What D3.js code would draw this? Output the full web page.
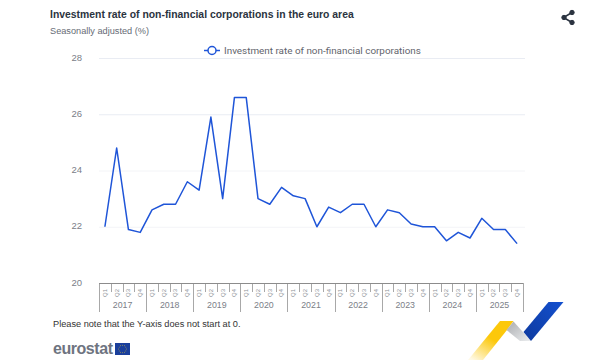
<!DOCTYPE html>
<html>
<head>
<meta charset="utf-8">
<script src="https://cdn.jsdelivr.net/npm/d3@7"></script>
<style>
  html, body { margin: 0; padding: 0; background: #fff; }
  text { font-family: "Liberation Sans", Arial, sans-serif; }
</style>
</head>
<body>
<div id="chart"></div>
<script>
// Data
const years = ["2017", "2018", "2019", "2020", "2021", "2022", "2023", "2024", "2025"];
const quarters = ["Q1", "Q2", "Q3", "Q4"];
const investmentRate = [
  22.0, 24.8, 21.9, 21.8,
  22.6, 22.8, 22.8, 23.6,
  23.3, 25.9, 23.0, 26.6,
  26.6, 23.0, 22.8, 23.4,
  23.1, 23.0, 22.0, 22.7,
  22.5, 22.8, 22.8, 22.0,
  22.6, 22.5, 22.1, 22.0,
  22.0, 21.5, 21.8, 21.6,
  22.3, 21.9, 21.9, 21.4
];
const yTicks = [20, 22, 24, 26, 28];
const seriesName = "Investment rate of non-financial corporations";

const width = 600, height = 360;
const margin = { top: 58, right: 77, bottom: 77, left: 99 };
const lineColor = "#1f55d8";

const svg = d3.select("#chart").append("svg")
  .attr("width", width)
  .attr("height", height)
  .style("display", "block");

// Scales
const periods = years.flatMap(y => quarters.map(q => y + " " + q));
const x = d3.scaleBand().domain(periods).range([margin.left, width - margin.right]);
const xYear = d3.scaleBand().domain(years).range([margin.left, width - margin.right]);
const y = d3.scaleLinear().domain([20, 28]).range([height - margin.bottom, margin.top]);

// Title block
svg.append("text").attr("x", 50).attr("y", 18)
  .attr("font-size", 10.4).attr("font-weight", "bold").attr("fill", "#2b3340")
  .text("Investment rate of non-financial corporations in the euro area");
svg.append("text").attr("x", 50).attr("y", 34)
  .attr("font-size", 9.2).attr("fill", "#666b75")
  .text("Seasonally adjusted (%)");

// Y axis with gridlines
const yAxis = svg.append("g")
  .attr("transform", "translate(" + margin.left + ",0)")
  .call(d3.axisLeft(y).tickValues(yTicks).tickSize(0).tickPadding(17));
yAxis.select(".domain").remove();
yAxis.selectAll("text").attr("font-size", 9.5).attr("font-family", null).attr("fill", "#7b8088").attr("y", -1);
svg.append("g").selectAll("line")
  .data(yTicks.filter(d => d > 20))
  .join("line")
  .attr("x1", margin.left)
  .attr("x2", width - margin.right + 2)
  .attr("y1", d => y(d) + 0.5)
  .attr("y2", d => y(d) + 0.5)
  .attr("stroke", d => d === 24 || d === 22 ? "#f3f4f7" : "#e9ecf3");

// X axis: quarters
const axisY = height - margin.bottom;
const xAxis = svg.append("g")
  .attr("transform", "translate(0," + axisY + ")")
  .call(d3.axisBottom(x).tickSize(0).tickFormat(d => d.split(" ")[1]));
xAxis.select(".domain").remove();
xAxis.selectAll("text")
  .attr("font-size", 6)
  .attr("font-family", null)
  .attr("fill", "#8a8f96")
  .attr("transform", "translate(0,10) rotate(-90)")
  .attr("x", 0).attr("y", 0).attr("dy", "0.32em")
  .attr("text-anchor", "middle");

// Quarter separators
svg.append("g").selectAll("line")
  .data(periods.filter((d, i) => i % 4 !== 0))
  .join("line")
  .attr("x1", d => Math.round(x(d)) + 0.5)
  .attr("x2", d => Math.round(x(d)) + 0.5)
  .attr("y1", axisY)
  .attr("y2", axisY + 9)
  .attr("stroke", "#a8a8a8");

// Year separators and labels
const yearEdges = years.map(d => xYear(d)).concat([width - margin.right]);
svg.append("g").selectAll("line")
  .data(yearEdges)
  .join("line")
  .attr("x1", d => Math.round(d) + 0.5)
  .attr("x2", d => Math.round(d) + 0.5)
  .attr("y1", axisY)
  .attr("y2", axisY + 29)
  .attr("stroke", "#a8a8a8");
svg.append("line")
  .attr("x1", margin.left).attr("x2", width - margin.right)
  .attr("y1", axisY + 0.5).attr("y2", axisY + 0.5)
  .attr("stroke", "#8c8c8c");
svg.append("g").selectAll("text")
  .data(years)
  .join("text")
  .attr("x", d => xYear(d) + xYear.bandwidth() / 2)
  .attr("y", axisY + 24.5)
  .attr("text-anchor", "middle")
  .attr("font-size", 8.8)
  .attr("fill", "#7b8088")
  .text(d => d);

// Series line
const line = d3.line()
  .x((d, i) => x(periods[i]) + x.bandwidth() / 2)
  .y(d => y(d));
svg.append("path")
  .datum(investmentRate)
  .attr("d", line)
  .attr("fill", "none")
  .attr("stroke", lineColor)
  .attr("stroke-width", 1.5)
  .attr("stroke-linejoin", "round");

// Legend
const legend = svg.append("g").attr("transform", "translate(212,50.5)");
legend.append("line").attr("x1", -8).attr("x2", 8).attr("stroke", lineColor).attr("stroke-width", 1.5);
legend.append("circle").attr("r", 4).attr("fill", "#fff").attr("stroke", lineColor).attr("stroke-width", 1.5);
legend.append("text").attr("x", 12).attr("y", 3.5)
  .attr("font-size", 9.9).attr("fill", "#5f646c")
  .style("font-family", "Roboto, sans-serif")
  .text(seriesName);

// Share icon
const share = svg.append("g").attr("fill", "#2b3340").attr("stroke", "#2b3340");
share.append("path").attr("d", "M572 12.5L563.5 17.5L572 22.5").attr("fill", "none").attr("stroke-width", 1.5);
share.append("circle").attr("cx", 572).attr("cy", 12.5).attr("r", 2.2);
share.append("circle").attr("cx", 564).attr("cy", 17.5).attr("r", 2.2);
share.append("circle").attr("cx", 572).attr("cy", 22.5).attr("r", 2.2);

// Footnote
svg.append("text").attr("x", 53).attr("y", 327)
  .attr("font-size", 9.2).attr("fill", "#333")
  .text("Please note that the Y-axis does not start at 0.");

// Eurostat logo
svg.append("text").attr("x", 53).attr("y", 354)
  .attr("font-size", 16).attr("font-weight", "bold").attr("letter-spacing", -0.45).attr("fill", "#6e7480")
  .text("eurostat");
svg.append("rect").attr("x", 115).attr("y", 343).attr("width", 15).attr("height", 12).attr("fill", "#1a3f9c");
svg.append("g").selectAll("circle")
  .data(d3.range(12))
  .join("circle")
  .attr("cx", d => 122.5 + 3.8 * Math.cos(d * Math.PI / 6))
  .attr("cy", d => 349 + 3.8 * Math.sin(d * Math.PI / 6))
  .attr("r", 0.45)
  .attr("fill", "#e8c830");

// Corner ribbon
const defs = svg.append("defs");
const gradY = defs.append("linearGradient").attr("id", "ribbonYellow")
  .attr("x1", 0.85).attr("y1", 0).attr("x2", 0.1).attr("y2", 1);
gradY.append("stop").attr("offset", "0.45").attr("stop-color", "#fcc80b");
gradY.append("stop").attr("offset", "1").attr("stop-color", "#fcc80b").attr("stop-opacity", 0.1);
const gradG = defs.append("linearGradient").attr("id", "ribbonGrey")
  .attr("x1", 0).attr("y1", 0).attr("x2", 1).attr("y2", 1);
gradG.append("stop").attr("offset", "0").attr("stop-color", "#a9abae");
gradG.append("stop").attr("offset", "1").attr("stop-color", "#eceef0");
const gradB = defs.append("linearGradient").attr("id", "ribbonBlue")
  .attr("x1", 0).attr("y1", 1).attr("x2", 1).attr("y2", 0);
gradB.append("stop").attr("offset", "0").attr("stop-color", "#0e3a9e");
gradB.append("stop").attr("offset", "1").attr("stop-color", "#1450cf");
svg.append("path").attr("d", "M500 321L513.5 321L507 330L483 360L468 360Z").attr("fill", "url(#ribbonYellow)");
svg.append("path").attr("d", "M513.5 321.5L531 341L520 341L506.5 330Z").attr("fill", "url(#ribbonGrey)");
svg.append("path").attr("d", "M548.5 302L563.5 302L531 341L523.5 332Z").attr("fill", "url(#ribbonBlue)");
</script>
</body>
</html>
